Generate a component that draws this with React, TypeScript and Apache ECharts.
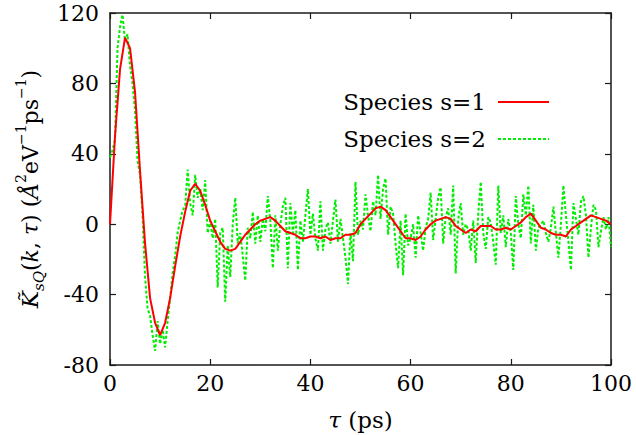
import React, { useEffect, useRef } from "react";
import * as echarts from "echarts";

// time axis (ps)
const RED_STEP = 1;
const GREEN_STEP = 0.5;
const X_TICKS = [0, 20, 40, 60, 80, 100];
const Y_TICKS = [-80, -40, 0, 40, 80, 120];

// Species s=1 (sampled every 1 ps from 0 to 100)
const species1 = [
  0, 50, 88, 106, 100, 75, 30, -11, -42, -56,
  -63, -56, -42, -24, -7, 7, 19, 23, 19, 11,
  2, -4, -10, -14, -15, -14, -10, -6, -3, 0,
  2, 3, 4, 2, -1, -4, -5, -6, -8, -8,
  -7, -7, -8, -7, -9, -8, -8, -6, -6, -5,
  0, 3, 6, 9, 10, 8, 4, 0, -4, -8,
  -8, -9, -7, -3, 0, 2, 3, 4, 3, -1,
  -3, -5, -3, -4, -1, -1, -1, -3, -3, -2,
  -3, -1, 1, 4, 6, 2, -2, -3, -5, -6,
  -6, -7, -3, -1, 1, 3, 5, 4, 3, 2,
  0,
];

// Species s=2 (sampled every 0.5 ps from 0 to 100)
const species2 = [
  38, 42, 48, 100, 112, 119, 104, 108, 90, 80,
  64, 36, 28, 5, -30, -48, -52, -63, -72, -55,
  -68, -60, -70, -55, -42, -28, -18, -5, 2, 8,
  10, 31, 12, 5, 28, 15, 20, 8, 25, -5,
  2, -8, 3, -36, -5, -2, -44, -12, -30, 0,
  15, -11, -5, -18, -32, -2, -8, 7, -11, 5,
  -10, 3, -4, 16, 2, -25, 5, -15, 0, 10,
  15, -25, 12, -5, 8, -26, 2, -10, 5, 20,
  -6, 6, -8, -15, 13, -15, -3, 1, -11, 2,
  14, -10, 3, -8, -19, -34, -5, -21, 24, -6,
  2, -3, 17, 5, -4, 13, 5, 28, 3, 20,
  26, -6, 10, 6, -11, -25, 2, -29, 6, -12,
  -8, 0, -19, 5, -5, -15, -2, 3, 18, -9,
  3, 15, 21, -11, 4, 9, -6, 22, -28, 3,
  12, -6, 0, -3, -15, 2, -22, 6, 24, -5,
  -14, 4, 1, -10, -23, 22, -5, 5, -13, 3,
  -5, -26, 16, 0, -8, 17, 5, 22, -11, 11,
  -15, -2, 0, 2, -5, -10, -2, 10, -5, -19,
  0, 22, 5, -10, -26, 12, 3, -6, 13, 16,
  5, -19, -2, 11, 8, -13, -4, 4, -3, 4,
  -13,
];

const SERIES_NAMES = ["Species s=1", "Species s=2"];
const RED = "#ff0000";
const GREEN = "#00ee00";

const FONT = "DejaVu Serif";

export default function App() {
  const ref = useRef<HTMLDivElement>(null);

  useEffect(() => {
    if (!ref.current) return;
    const chart = echarts.init(ref.current, undefined, { renderer: "svg" });

    const redData = species1.map((v, i) => [i * RED_STEP, v]);
    const greenData = species2.map((v, i) => [i * GREEN_STEP, v]);

    const xMin = X_TICKS[0];
    const xMax = X_TICKS[X_TICKS.length - 1];
    const xInt = X_TICKS[1] - X_TICKS[0];
    const yMin = Y_TICKS[0];
    const yMax = Y_TICKS[Y_TICKS.length - 1];
    const yInt = Y_TICKS[1] - Y_TICKS[0];

    const axisLine = { show: true, onZero: false, lineStyle: { color: "#1a1a1a", width: 1.5 } };
    const tick = { show: true, inside: true, length: 6, lineStyle: { color: "#1a1a1a", width: 1.2 } };
    const label = { fontSize: 22, color: "#000", fontFamily: FONT };

    const base = 23;
    const legendText = { fontSize: 23, fill: "#000", fontFamily: FONT, align: "right", verticalAlign: "middle" };
    chart.setOption({
      animation: false,
      textStyle: { fontFamily: FONT },
      grid: { left: 110, right: 25, top: 13, bottom: 70, containLabel: false, outerBoundsMode: "none" },
      graphic: [
        { type: "text", x: 486, y: 102, style: { ...legendText, text: SERIES_NAMES[0] } },
        { type: "line", shape: { x1: 498, y1: 102, x2: 549, y2: 102 }, style: { stroke: RED, lineWidth: 2 } },
        { type: "text", x: 486, y: 139, style: { ...legendText, text: SERIES_NAMES[1] } },
        {
          type: "line",
          shape: { x1: 498, y1: 139, x2: 549, y2: 139 },
          style: { stroke: GREEN, lineWidth: 2, lineDash: [3, 2] },
        },
      ],
      xAxis: [
        {
          type: "value",
          position: "bottom",
          min: xMin,
          max: xMax,
          interval: xInt,
          axisLine,
          axisTick: tick,
          axisLabel: { ...label, margin: 7 },
          splitLine: { show: false },
          name: "{i|τ} (ps)",
          nameLocation: "middle",
          nameGap: 43,
          nameTextStyle: {
            fontSize: base,
            color: "#000",
            fontFamily: FONT,
            rich: { i: { fontSize: base, fontStyle: "italic", fontFamily: FONT, color: "#000" } },
          },
        },
        {
          type: "value",
          position: "top",
          min: xMin,
          max: xMax,
          interval: xInt,
          axisLine,
          axisTick: tick,
          axisLabel: { show: false },
          splitLine: { show: false },
        },
      ],
      yAxis: [
        {
          type: "value",
          position: "left",
          min: yMin,
          max: yMax,
          interval: yInt,
          axisLine,
          axisTick: tick,
          axisLabel: { ...label, margin: 11 },
          splitLine: { show: false },
          name:
            "{k|K̃}{sub|sQ}{n|(}{i|k}{n|, }{i|τ}{n|) (}{i|Å}{sup|2}{n|eV}{sup|−1}{n|ps}{sup|−1}{n|)}",
          nameLocation: "middle",
          nameRotate: 90,
          nameGap: 47,
          nameTextStyle: {
            color: "#000",
            fontFamily: FONT,
            fontSize: 22,
            rich: {
              n: { fontSize: 22, lineHeight: 32, fontFamily: FONT, color: "#000", verticalAlign: "middle" },
              i: { fontSize: 22, lineHeight: 32, fontStyle: "italic", fontFamily: FONT, color: "#000", verticalAlign: "middle" },
              k: { fontSize: 23, lineHeight: 32, fontStyle: "italic", fontFamily: FONT, color: "#000", verticalAlign: "middle" },
              sub: { fontSize: 15, lineHeight: 15, fontStyle: "italic", fontFamily: FONT, color: "#000", verticalAlign: "bottom" },
              sup: { fontSize: 14, lineHeight: 14, fontFamily: FONT, color: "#000", verticalAlign: "top" },
            },
          },
        },
        {
          type: "value",
          position: "right",
          min: yMin,
          max: yMax,
          interval: yInt,
          axisLine,
          axisTick: tick,
          axisLabel: { show: false },
          splitLine: { show: false },
        },
      ],
      series: [
        {
          name: SERIES_NAMES[1],
          type: "line",
          data: greenData,
          showSymbol: false,
          symbol: "none",
          z: 2,
          color: GREEN,
          lineStyle: { color: GREEN, width: 2, type: [3, 2] },
        },
        {
          name: SERIES_NAMES[0],
          type: "line",
          data: redData,
          showSymbol: false,
          symbol: "none",
          z: 3,
          color: RED,
          lineStyle: { color: RED, width: 2 },
        },
      ],
    });

    return () => chart.dispose();
  }, []);

  return (
    <div
      ref={ref}
      style={{ position: "fixed", left: 0, top: 0, width: 636, height: 435, background: "#fff" }}
    />
  );
}
